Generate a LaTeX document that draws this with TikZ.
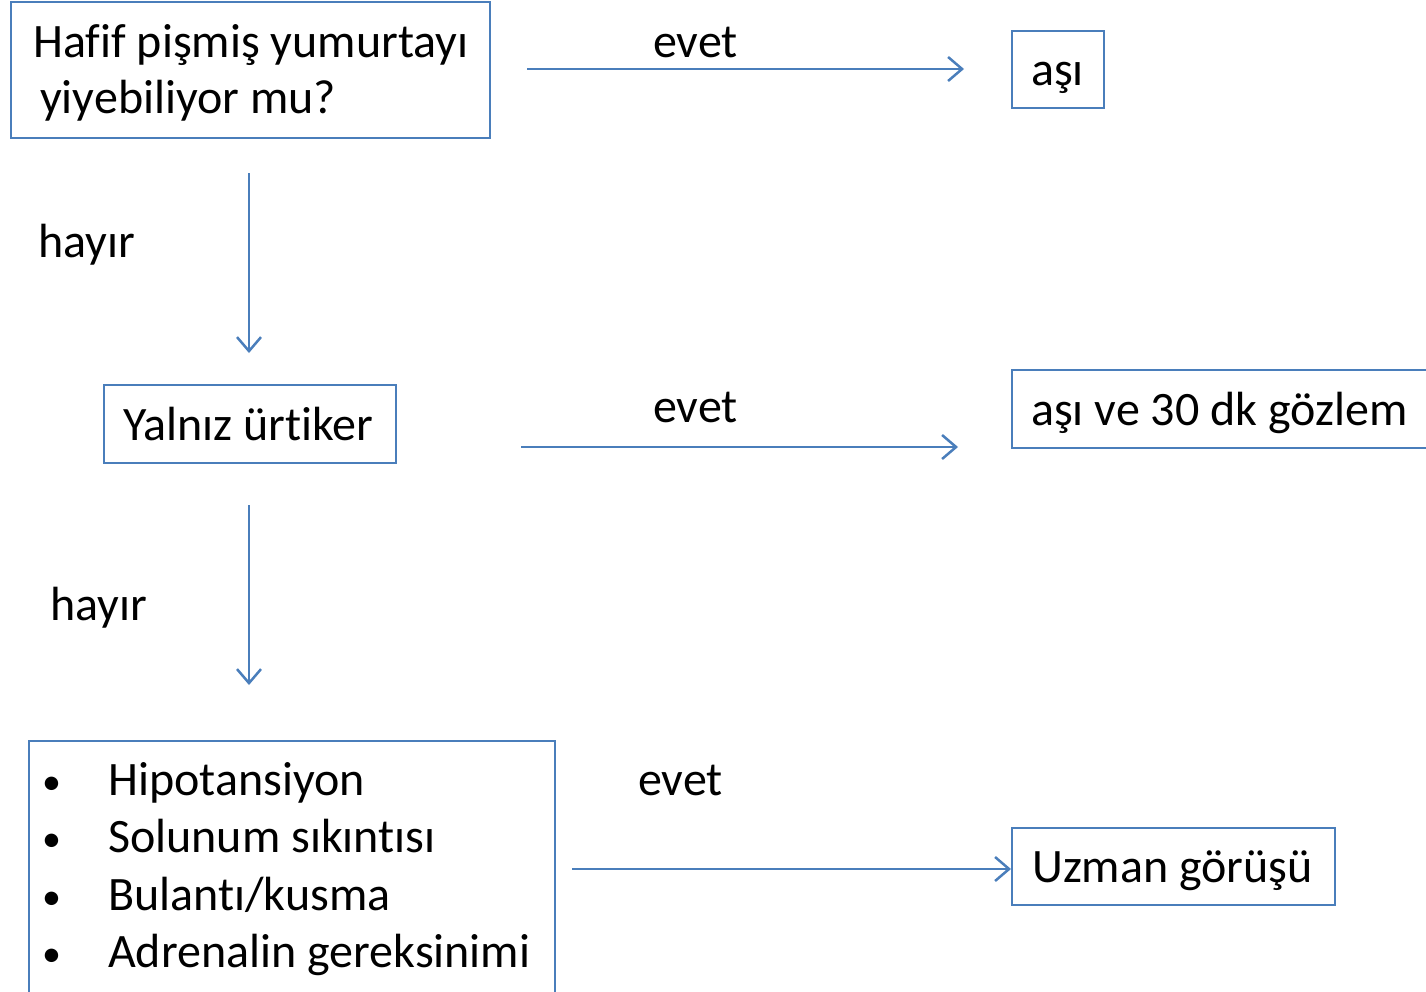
\documentclass[tikz,border=0pt]{standalone}
\usepackage{fontspec}
\setmainfont{Carlito}[Ligatures=NoCommon]
\usetikzlibrary{arrows.meta}
\definecolor{bl}{HTML}{4A7EBB}
\begin{document}
\begin{tikzpicture}[x=1pt,y=-1pt,
  box/.style={draw=bl,line width=2pt,inner sep=0pt,anchor=north west},
  lbl/.style={anchor=base west,inner sep=0pt,font=\fontsize{48}{56}\selectfont},
  bul/.style={anchor=base west,inner sep=0pt,font=\fontsize{38}{44}\selectfont},
  conn/.style={draw=bl,line width=2.5pt,-{Straight Barb[length=14pt,width=24pt,line width=2.5pt]}}]
\useasboundingbox (0,0) rectangle (1426,991);
\clip (0,0) rectangle (1426,991);
% boxes
\node[box,minimum width=479pt,minimum height=136pt] (b1) at (10,1) {};
\node[box,minimum width=92pt,minimum height=77pt] (b2) at (1011,30) {};
\node[box,minimum width=292pt,minimum height=78pt] (b3) at (103,384) {};
\node[box,minimum width=450pt,minimum height=78pt] (b4) at (1011,369) {};
\node[box,minimum width=526pt,minimum height=280pt] (b5) at (28,740) {};
\node[box,minimum width=323pt,minimum height=77pt] (b6) at (1011,827) {};
% texts
\node[lbl] (t1a) at (33,57) {Hafif pişmiş yumurtayı};
\node[lbl] (t1b) at (40,113) {yiyebiliyor mu?};
\node[lbl] (t2) at (1031,85) {aşı};
\node[lbl] (t3) at (123,440) {Yalnız ürtiker};
\node[lbl] (t4) at (1031,425) {aşı ve 30 dk gözlem};
\node[lbl] (t6) at (1032,882) {Uzman görüşü};
\node[lbl] (e1) at (653,57) {evet};
\node[lbl] (e2) at (653,422) {evet};
\node[lbl] (e3) at (638,795) {evet};
\node[lbl] (h1) at (38,257) {hayır};
\node[lbl] (h2) at (50,620) {hayır};
\foreach \y/\t [count=\i] in {795/{Hipotansiyon},852/{Solunum sıkıntısı},910/{Bulantı/kusma},967/{Adrenalin gereksinimi}}{
  \node[bul] (bu\i) at (42,\y-1) {•};
  \node[lbl] (li\i) at (108,\y) {\t};
}
% connector end points
\coordinate (a1s) at (527,69);  \coordinate (a1e) at (964,69);
\coordinate (d1s) at (249,173); \coordinate (d1e) at (249,353);
\coordinate (a2s) at (521,447); \coordinate (a2e) at (958,447);
\coordinate (d2s) at (249,505); \coordinate (d2e) at (249,685);
\coordinate (a3s) at (572,869); \coordinate (a3e) at (1011,869);
\draw[conn] (a1s) -- (a1e);
\draw[conn] (d1s) -- (d1e);
\draw[conn] (a2s) -- (a2e);
\draw[conn] (d2s) -- (d2e);
\draw[conn] (a3s) -- (a3e);
\end{tikzpicture}
\end{document}
